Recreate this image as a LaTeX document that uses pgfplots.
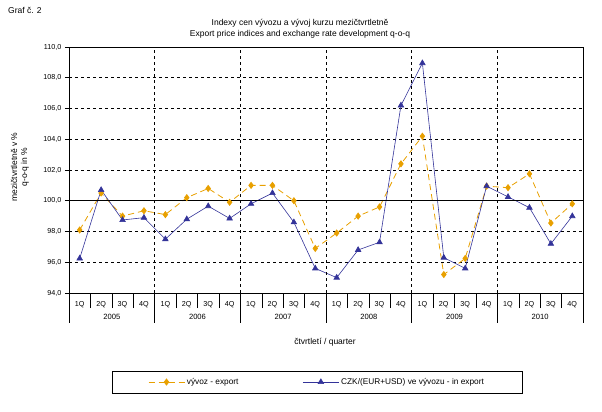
\documentclass[border=0pt]{standalone}
\usepackage{pgfplots}
\pgfplotsset{compat=1.18}
\usepackage{fontspec}
\setmainfont{Liberation Sans}
\definecolor{exporange}{RGB}{232,160,0}
\definecolor{czkblue}{RGB}{51,51,153}
\begin{document}
\begin{tikzpicture}[font=\fontsize{8.5}{10}\selectfont]
\path (0pt,0pt) rectangle (602pt,412pt);
\node[anchor=west, inner sep=0pt] at (8pt,402pt) {Graf č. 2};
\node at (300pt,389pt) {Indexy cen vývozu a vývoj kurzu mezičtvrtletně};
\node at (300pt,378pt) {Export price indices and exchange rate development q-o-q};
\node[rotate=90] at (14pt,245pt) {mezičtvrtletně v \%};
\node[rotate=90] at (25pt,245pt) {q-o-q in \%};
\node at (325pt,70pt) {čtvrtletí / quarter};
\begin{axis}[
  at={(69pt,119pt)}, anchor=south west,
  scale only axis, width=514pt, height=246pt,
  xmin=0.5, xmax=24.5, ymin=94, ymax=110,
  clip=false,
  axis line style={black, line width=0.6pt},
  ytick={94,96,...,110},
  ymajorgrids, grid style={black, dashed, line width=0.5pt},
  yticklabel style={/pgf/number format/.cd, fixed, fixed zerofill, precision=1, use comma},
  /pgf/number format/assume math mode=true,
  y tick style={black, line width=0.5pt}, ytick pos=left, tick align=outside,
  major tick length=4pt,
  xtick={1,...,24},
  xticklabels={1Q,2Q,3Q,4Q,1Q,2Q,3Q,4Q,1Q,2Q,3Q,4Q,1Q,2Q,3Q,4Q,1Q,2Q,3Q,4Q,1Q,2Q,3Q,4Q},
  x tick style={draw=none},
  xticklabel style={yshift=-1pt},
  extra x ticks={1.5,2.5,3.5,5.5,6.5,7.5,9.5,10.5,11.5,13.5,14.5,15.5,17.5,18.5,19.5,21.5,22.5,23.5},
  extra x tick labels={},
  extra x tick style={x tick style={draw=black, line width=0.5pt}, major tick length=15pt, tick align=outside, xtick pos=left},
  tick label style={font=\fontsize{7.2}{8}\selectfont},
  legend columns=2,
  legend style={at={(0.4825,-0.362)}, anchor=center, draw=black, line width=0.6pt,
    font=\fontsize{8.3}{10}\selectfont, inner xsep=36pt, inner ysep=5pt,
    /tikz/column 2/.style={column sep=62pt}},
  legend image code/.code={
    \draw[#1] (0pt,0pt) -- (36pt,0pt);
    \draw[#1, solid] plot coordinates {(18pt,0pt)};
  },
]
\addplot[color=exporange, line width=0.8pt, dash pattern=on 6pt off 4pt,
  mark=diamond*, mark size=3pt, mark options={solid, fill=exporange, draw=exporange}]
coordinates {
(1,98.1) (2,100.5) (3,99.0) (4,99.35)
(5,99.1) (6,100.2) (7,100.8) (8,99.9)
(9,101.0) (10,101.0) (11,100.0) (12,96.9)
(13,97.9) (14,99.0) (15,99.6) (16,102.4)
(17,104.2) (18,95.2) (19,96.25) (20,100.95)
(21,100.85) (22,101.75) (23,98.55) (24,99.8)
};
\addlegendentry{vývoz - export}
\addplot[color=czkblue, line width=0.6pt,
  mark=triangle*, mark size=3.2pt, mark options={solid, fill=czkblue, draw=czkblue}]
coordinates {
(1,96.25) (2,100.7) (3,98.75) (4,98.9)
(5,97.5) (6,98.8) (7,99.65) (8,98.85)
(9,99.8) (10,100.5) (11,98.6) (12,95.6)
(13,95.0) (14,96.8) (15,97.3) (16,106.2)
(17,108.95) (18,96.3) (19,95.6) (20,100.95)
(21,100.25) (22,99.55) (23,97.2) (24,99.0)
};
\addlegendentry{CZK/(EUR+USD) ve vývozu - in export}
\draw[black, line width=0.6pt] (axis cs:0.5,100) -- (axis cs:24.5,100);
\pgfplotsinvokeforeach{4.5,8.5,12.5,16.5,20.5}{
  \draw[black, dashed, line width=0.5pt] (axis cs:#1,94) -- (axis cs:#1,110);
}
\pgfplotsinvokeforeach{0.5,4.5,8.5,12.5,16.5,20.5,24.5}{
  \draw[black, line width=0.6pt] (axis cs:#1,94) -- ([yshift=-30pt]axis cs:#1,94);
}
\begin{scope}[font=\fontsize{7.6}{9}\selectfont]
\node at ([yshift=-24pt]axis cs:2.5,94) {2005};
\node at ([yshift=-24pt]axis cs:6.5,94) {2006};
\node at ([yshift=-24pt]axis cs:10.5,94) {2007};
\node at ([yshift=-24pt]axis cs:14.5,94) {2008};
\node at ([yshift=-24pt]axis cs:18.5,94) {2009};
\node at ([yshift=-24pt]axis cs:22.5,94) {2010};
\end{scope}
\end{axis}
\end{tikzpicture}
\end{document}
